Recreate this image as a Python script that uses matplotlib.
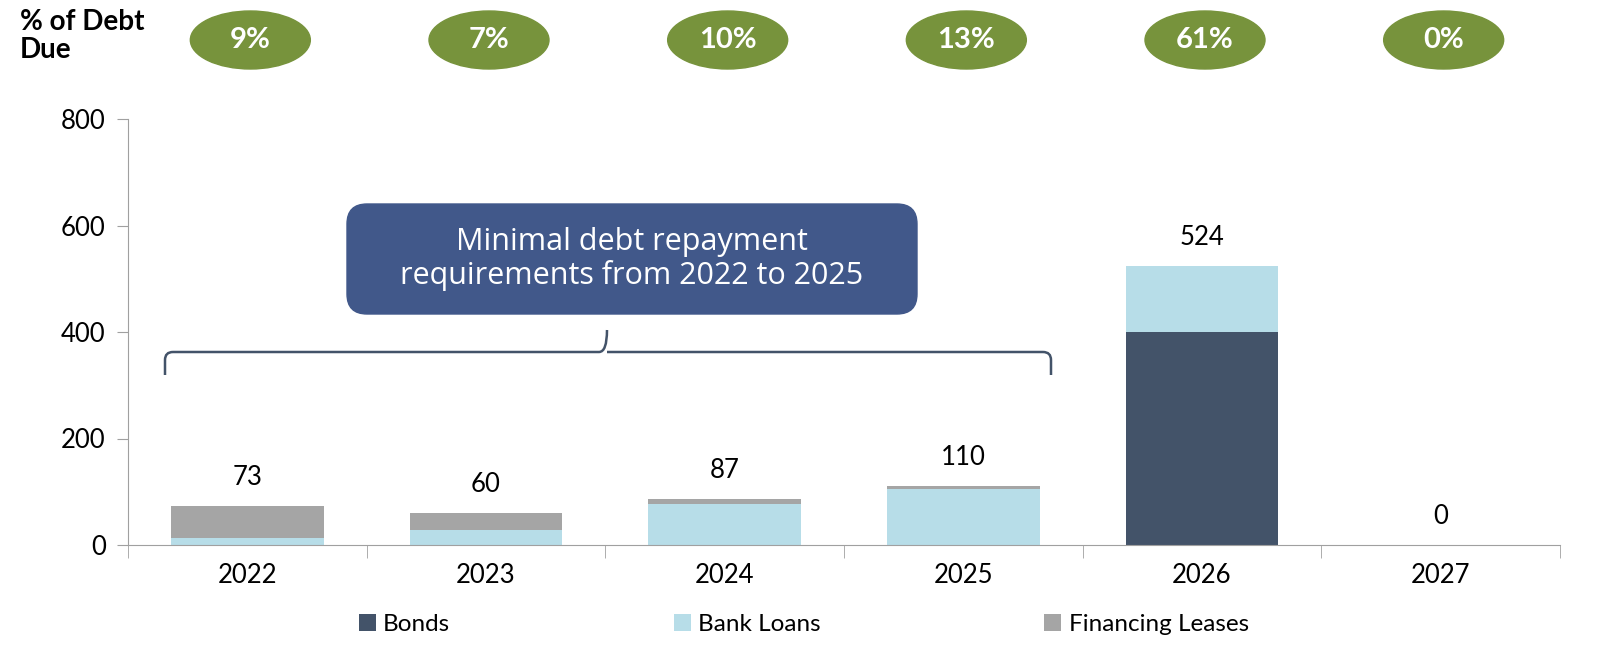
import matplotlib
matplotlib.use('Agg')
from matplotlib import pyplot as plt
from matplotlib.patches import Ellipse, FancyBboxPatch, PathPatch
from matplotlib.path import Path
from matplotlib.transforms import IdentityTransform
import numpy as np

years = ['2022', '2023', '2024', '2025', '2026', '2027']
bonds = [0, 0, 0, 0, 400, 0]
bank_loans = [13, 28, 77, 106, 124, 0]
fin_leases = [60, 32, 10, 4, 0, 0]
totals = [73, 60, 87, 110, 524, 0]
pct_due = ['9%', '7%', '10%', '13%', '61%', '0%']

plt.rcParams['font.family'] = ['Lato', 'DejaVu Sans']

fig = plt.figure(figsize=(16.24, 6.59), dpi=100)
ax = fig.add_axes([128/1624, 114/659, 1432/1624, 426/659])

x = np.arange(len(years))
w = 0.64
ax.bar(x, bonds, w, color='#435369', label='Bonds')
ax.bar(x, bank_loans, w, bottom=bonds, color='#B7DDE8', label='Bank Loans')
b2 = np.array(bonds) + np.array(bank_loans)
ax.bar(x, fin_leases, w, bottom=b2, color='#A5A5A5', label='Financing Leases')

for i, t in enumerate(totals):
    ax.text(i, t + 30, str(t), ha='center', va='bottom', fontsize=18.5)

ax.set_xlim(-0.5, len(years) - 0.5)
ax.set_ylim(0, 800)
ax.set_yticks([0, 200, 400, 600, 800])
ax.set_xticks(x)
ax.set_xticklabels(years, fontsize=18.5)
ax.set_xticks(np.arange(-0.5, len(years)), minor=True)
ax.tick_params(axis='x', which='major', length=0, pad=13)
ax.tick_params(axis='x', which='minor', length=9, color='#A0A0A0', direction='out')
ax.tick_params(axis='y', labelsize=18.5, length=8, color='#A0A0A0', pad=8)
for s in ['top', 'right']:
    ax.spines[s].set_visible(False)
ax.spines['left'].set_color('#A0A0A0')
ax.spines['bottom'].set_color('#A0A0A0')

leg = ax.legend(loc='upper center', bbox_to_anchor=(0.472, -0.11), ncol=3, frameon=False,
                fontsize=17.5, handlelength=0.7, handleheight=0.7, handletextpad=0.3,
                columnspacing=9.2)

# heading and green percentage ellipses
fig.text(20/1624, 1 - 9/659, '% of Debt\nDue', ha='left', va='top', fontsize=20,
         fontweight='bold', linespacing=1.1)
for i, p in enumerate(pct_due):
    px = ax.transData.transform((i, 0))[0]
    py = 659 - 40
    fig.patches.append(Ellipse((px + 3, py), 120, 58, color='#77933C',
                               transform=IdentityTransform(), figure=fig))
    fig.text((px + 3)/1624, py/659, p, ha='center', va='center', color='white',
             fontsize=21, fontweight='bold')

# annotation box
bx0, by0, bx1, by1 = 347, 659 - 314, 917, 659 - 204
fig.patches.append(FancyBboxPatch((bx0 + 20, by0 + 20), bx1 - bx0 - 40, by1 - by0 - 40,
                                  boxstyle='round,pad=20', facecolor='#41588A',
                                  edgecolor='#41588A', transform=IdentityTransform(),
                                  figure=fig))
fig.text((bx0 + bx1)/2/1624, (by0 + by1)/2/659,
         'Minimal debt repayment\nrequirements from 2022 to 2025',
         ha='center', va='center', color='white', fontsize=22,
         family=['Open Sans', 'DejaVu Sans'], linespacing=1.15)

# curly brace
xl, xc, xr = 165, 607, 1051
yb, ye, yt = 659 - 352, 659 - 375, 659 - 330
r = 8
verts = [(xl, ye), (xl, yb - r), (xl, yb), (xl + r, yb),
         (xc - r, yb), (xc, yb), (xc, yt),
         (xc, yb), (xc + r, yb),
         (xr - r, yb), (xr, yb), (xr, yb - r), (xr, ye)]
codes = [Path.MOVETO, Path.LINETO, Path.CURVE3, Path.CURVE3,
         Path.LINETO, Path.CURVE3, Path.CURVE3,
         Path.MOVETO, Path.LINETO,
         Path.LINETO, Path.CURVE3, Path.CURVE3, Path.LINETO]
fig.patches.append(PathPatch(Path(verts, codes), fill=False, edgecolor='#435369', lw=1.8,
                             transform=IdentityTransform(), figure=fig))

fig.savefig('out.png', dpi=100)
